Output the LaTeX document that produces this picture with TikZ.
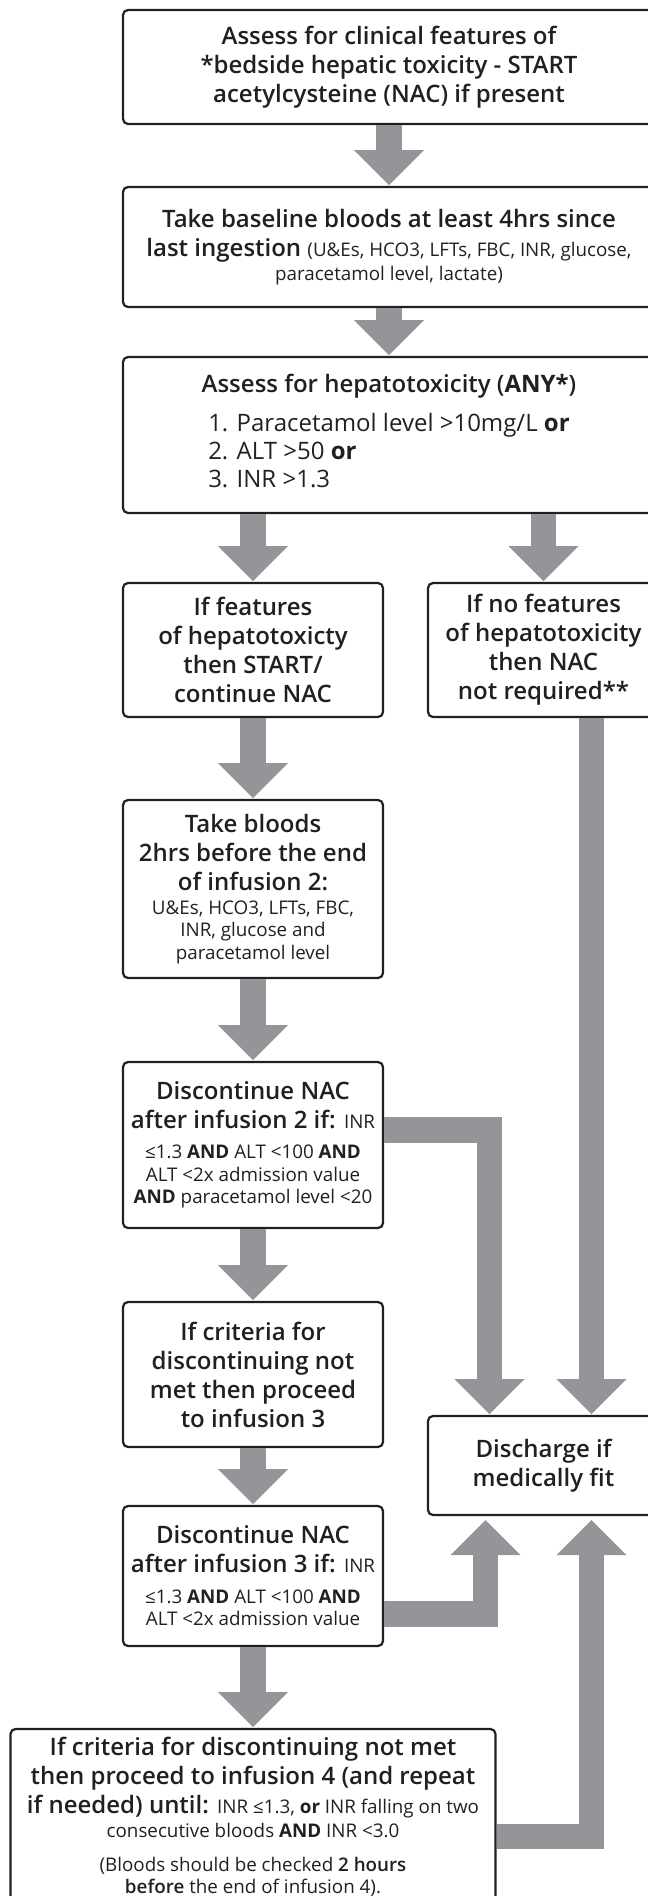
\documentclass[tikz,border=0pt]{standalone}
\usepackage{fontspec}
\setmainfont{Open Sans}
\newfontfamily\sbfont{Open Sans Semibold}[BoldFont={Open Sans Bold}]
\usepackage{tikz}
\usetikzlibrary{calc,positioning}
\definecolor{ink}{RGB}{35,31,32}
\definecolor{arrowgray}{RGB}{147,149,152}
\newcommand{\bigtext}{\sbfont\fontsize{24}{29}\selectfont}
\newcommand{\smalltext}{\normalfont\fontsize{18.8}{29}\selectfont}
\newcommand{\listtext}{\normalfont\fontsize{24}{28}\selectfont}
\newcommand{\headdown}[1]{\fill[arrowgray] (#1) -- ++(-35pt,35pt) -- ++(70pt,0) -- cycle;}
\newcommand{\headup}[1]{\fill[arrowgray] (#1) -- ++(-35pt,-35pt) -- ++(70pt,0) -- cycle;}
\newcommand{\fatdown}[2]{%
  \draw[fat] ($(#2.north |- #1.south)+(0,-1.1pt)$) -- ($(#2.north)+(0,36pt)$);
  \headdown{$(#2.north)+(0,2pt)$}}
\tikzset{
  fat/.style={draw=arrowgray, line width=25.5pt},
  box/.style={draw=ink, text=ink, line width=2.2pt, rounded corners=5pt, align=center, inner sep=3pt, outer sep=0pt, font=\bigtext},
  widebox/.style={box, minimum width=532pt},
  colbox/.style={box, minimum width=260pt},
  % right hand column
  sidebox/.style={box, minimum width=231pt}
}
\begin{document}
\begin{tikzpicture}[x=1pt, y=1pt]
  \useasboundingbox (0,0) rectangle (648,-1896);
  \clip (0,0) rectangle (648,-1896);
  \node[widebox, minimum height=114pt] (assess) at (389,-67) {Assess for clinical features of\\{}*bedside hepatic toxicity - START\\acetylcysteine (NAC) if present};
  \node[widebox, minimum height=120pt, below=63pt of assess] (base) {Take baseline bloods at least 4hrs since\\last ingestion {\smalltext (U\&Es, HCO3, LFTs, FBC, INR, glucose,}\\[-5pt]{\smalltext paracetamol level, lactate)}};
  \node[widebox, minimum height=156pt, below=50pt of base] (hep) {Assess for hepatotoxicity ({\bfseries ANY*})\\[10pt]{\listtext\begin{tabular}[t]{@{}l@{}}1. Paracetamol level >10mg/L {\bfseries or}\\2. ALT >50 {\bfseries or}\\3. INR >1.3\end{tabular}}};
  \node[colbox, minimum height=134pt, below=70pt of hep.south west, anchor=north west] (feat) {If features\\of hepatotoxicty\\then START/\\continue NAC};
  \node[sidebox, minimum height=134pt, right=45pt of feat] (nofeat) {If no features\\of hepatotoxicity\\then NAC\\not required**};
  \node[colbox, minimum height=178pt, below=83pt of feat] (bloods) {Take bloods\\2hrs before the end\\of infusion 2:\\[-5pt]{\smalltext U\&Es, HCO3, LFTs, FBC,}\\[-6.5pt]{\smalltext INR, glucose and}\\[-6.5pt]{\smalltext paracetamol level}};
  \node[colbox, minimum height=166pt, below=84pt of bloods] (stop2) {Discontinue NAC\\after infusion 2 if: {\smalltext INR}\\[1pt]{\smalltext ≤1.3 {\bfseries AND} ALT <100 {\bfseries AND}}\\[-6pt]{\smalltext ALT <2x admission value}\\[-7pt]{\smalltext {\bfseries AND} paracetamol level <20}};
  \node[colbox, minimum height=145pt, below=74pt of stop2] (crit3) {If criteria for\\discontinuing not\\met then proceed\\to infusion 3};
  \node[colbox, minimum height=140pt, below=59pt of crit3] (stop3) {Discontinue NAC\\after infusion 3 if: {\smalltext INR}\\[2pt]{\smalltext ≤1.3 {\bfseries AND} ALT <100 {\bfseries AND}}\\[-7pt]{\smalltext ALT <2x admission value}};
  \node[box, minimum width=485pt, minimum height=176pt, below=83pt of stop3] (crit4) {If criteria for discontinuing not met\\then proceed to infusion 4 (and repeat\\if needed) until: {\smalltext INR ≤1.3, {\bfseries or} INR falling on two}\\[-5pt]{\smalltext consecutive bloods {\bfseries AND} INR <3.0}\\[5pt]{\smalltext (Bloods should be checked {\sbfont 2 hours}}\\[-7pt]{\smalltext {\sbfont before} the end of infusion 4).}};
  \node[sidebox, minimum height=99pt, below=699pt of nofeat] (dis) {Discharge if\\medically fit};
  \fatdown{assess}{base}
  \fatdown{base}{hep}
  \fatdown{hep}{feat}
  \fatdown{hep}{nofeat}
  \fatdown{feat}{bloods}
  \fatdown{bloods}{stop2}
  \fatdown{stop2}{crit3}
  \fatdown{crit3}{stop3}
  \fatdown{stop3}{crit4}
  \coordinate (rx) at ($(dis.north)+(48pt,0)$);
  \coordinate (lx) at ($(dis.north)+(-54pt,0)$);
  \coordinate (lux) at ($(dis.south)+(-58pt,0)$);
  \draw[fat] ($(nofeat.south -| rx)+(0,-1.1pt)$) -- ($(dis.north -| rx)+(0,36pt)$);
  \headdown{$(dis.north -| rx)+(0,2pt)$}
  \draw[fat] ($(stop2.east)+(1.1pt,15pt)$) -| ($(dis.north -| lx)+(0,36pt)$);
  \headdown{$(dis.north -| lx)+(0,2pt)$}
  \draw[fat] ($(stop3.east)+(1.1pt,-38pt)$) -| ($(dis.south -| lux)+(0,-39pt)$);
  \headup{$(dis.south -| lux)+(0,-5pt)$}
  \draw[fat] ($(crit4.east)+(1.1pt,-19.5pt)$) -| ($(dis.south -| rx)+(0,-39pt)$);
  \headup{$(dis.south -| rx)+(0,-5pt)$}
\end{tikzpicture}
\end{document}
